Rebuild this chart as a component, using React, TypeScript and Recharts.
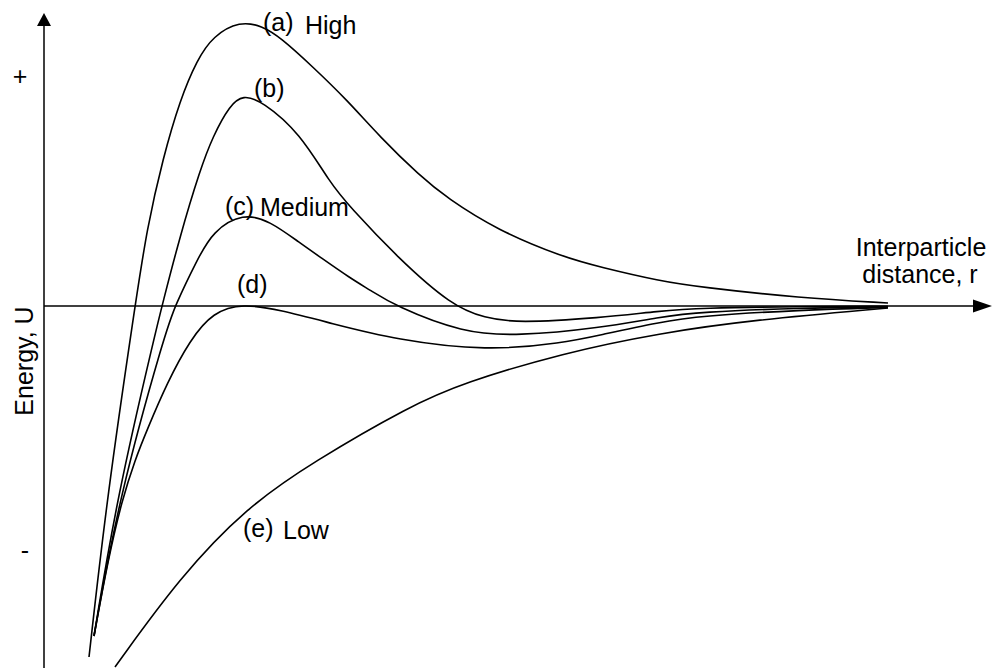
import { LineChart, Line, XAxis, YAxis, ReferenceLine, Customized } from "recharts";

// r and U are in arbitrary units (r = 0 and U = 0 at the axes' crossing)
const curveA = [
  { r: 4.5, u: -35.1 }, { r: 6.3, u: -19.1 }, { r: 9.1, u: 0 }, { r: 10.3, u: 7.8 },
  { r: 11.9, u: 14.8 }, { r: 13.6, u: 20.6 }, { r: 15.3, u: 24.6 }, { r: 16.9, u: 27.0 },
  { r: 19.6, u: 28.5 }, { r: 21.8, u: 28.0 }, { r: 23.6, u: 26.9 }, { r: 26.9, u: 23.9 },
  { r: 30.3, u: 20.6 }, { r: 33.6, u: 16.9 }, { r: 37.6, u: 13.0 }, { r: 40.3, u: 10.8 },
  { r: 45.3, u: 7.6 }, { r: 51.9, u: 4.9 }, { r: 55.6, u: 3.9 }, { r: 61.6, u: 2.5 },
  { r: 65.6, u: 1.9 }, { r: 75.6, u: 0.8 }, { r: 84.4, u: 0.3 },
];
const curveB = [
  { r: 5.0, u: -33.0 }, { r: 7.3, u: -19.1 }, { r: 11.2, u: -2.4 }, { r: 11.8, u: 0 },
  { r: 13.6, u: 7.0 }, { r: 15.6, u: 13.6 }, { r: 16.9, u: 17.0 }, { r: 18.6, u: 20.1 },
  { r: 19.9, u: 21.1 }, { r: 21.8, u: 20.5 }, { r: 25.6, u: 17.3 }, { r: 28.6, u: 12.3 },
  { r: 30.6, u: 9.9 }, { r: 35.3, u: 4.9 }, { r: 40.8, u: 0 }, { r: 44.1, u: -1.2 },
  { r: 47.3, u: -1.7 }, { r: 55.6, u: -1.2 }, { r: 61.6, u: -0.5 }, { r: 65.6, u: -0.2 },
  { r: 75.6, u: -0.05 }, { r: 84.4, u: -0.03 },
];
const curveC = [
  { r: 5.0, u: -33.0 }, { r: 7.5, u: -19.1 }, { r: 12.2, u: -2.4 }, { r: 13.1, u: 0 },
  { r: 15.3, u: 4.6 }, { r: 16.9, u: 7.5 }, { r: 19.9, u: 9.3 }, { r: 22.6, u: 8.5 },
  { r: 25.6, u: 6.3 }, { r: 27.6, u: 4.9 }, { r: 30.6, u: 2.8 }, { r: 32.6, u: 1.6 },
  { r: 35.1, u: 0 }, { r: 41.9, u: -2.7 }, { r: 47.3, u: -3.0 }, { r: 55.6, u: -2.2 },
  { r: 61.6, u: -1.1 }, { r: 65.6, u: -0.6 }, { r: 75.6, u: -0.2 }, { r: 84.4, u: -0.1 },
];
const curveD = [
  { r: 5.0, u: -33.0 }, { r: 6.4, u: -25.4 }, { r: 7.8, u: -19.4 }, { r: 9.1, u: -15.4 },
  { r: 10.3, u: -12.4 }, { r: 12.3, u: -7.7 }, { r: 14.6, u: -3.4 }, { r: 16.9, u: -0.6 },
  { r: 19.9, u: 0.25 }, { r: 23.6, u: -0.4 }, { r: 28.6, u: -1.7 }, { r: 35.3, u: -3.4 },
  { r: 44.3, u: -4.5 }, { r: 51.9, u: -3.7 }, { r: 55.6, u: -2.9 }, { r: 61.6, u: -1.6 },
  { r: 65.6, u: -1.0 }, { r: 75.6, u: -0.4 }, { r: 84.4, u: -0.15 },
];
const curveE = [
  { r: 7.1, u: -36.1 }, { r: 13.6, u: -27.1 }, { r: 20.3, u: -20.1 }, { r: 26.9, u: -15.6 },
  { r: 36.6, u: -10.0 }, { r: 41.9, u: -7.7 }, { r: 51.9, u: -4.7 }, { r: 61.6, u: -2.7 },
  { r: 70.9, u: -1.4 }, { r: 84.4, u: -0.2 },
];

const curves = [curveA, curveB, curveC, curveD, curveE];

const R_DOMAIN: [number, number] = [-4.4, 94.9];
const U_DOMAIN: [number, number] = [-36.2, 30.6];
const R_END = 94.8;
const U_TOP = 29.3;

const FONT = "'Liberation Sans', Arial, Helvetica, sans-serif";

function UpArrowAxis(props: any) {
  const { x1, y1, y2 } = props;
  const top = Math.min(y1, y2);
  const bottom = Math.max(y1, y2);
  return (
    <g>
      <line x1={x1} y1={bottom} x2={x1} y2={top + 10} stroke="#000" strokeWidth={1.5} />
      <polygon points={`${x1},${top} ${x1 - 7},${top + 13} ${x1 + 7},${top + 13}`} fill="#000" />
    </g>
  );
}

function RightArrowAxis(props: any) {
  const { x1, y1, x2 } = props;
  return (
    <g>
      <line x1={x1} y1={y1} x2={x2 - 15} y2={y1} stroke="#000" strokeWidth={1.5} />
      <polygon points={`${x2},${y1} ${x2 - 19},${y1 - 6.5} ${x2 - 19},${y1 + 6.5}`} fill="#000" />
    </g>
  );
}

function Labels() {
  const t = { fontFamily: FONT, fontSize: 25, fill: "#000" } as const;
  return (
    <g>
      <text x={263} y={31} {...t}>(a)</text>
      <text x={305} y={34} {...t}>High</text>
      <text x={254} y={97} {...t}>(b)</text>
      <text x={225} y={215} {...t}>(c)</text>
      <text x={260} y={216} {...t}>Medium</text>
      <text x={237} y={293} {...t}>(d)</text>
      <text x={243} y={537} {...t}>(e)</text>
      <text x={283} y={539} {...t}>Low</text>
      <text x={921} y={256} textAnchor="middle" {...t}>Interparticle</text>
      <text x={920} y={283} textAnchor="middle" {...t}>distance, r</text>
      <text x={20} y={85} textAnchor="middle" {...t}>+</text>
      <text x={25} y={559} textAnchor="middle" {...t}>-</text>
      <text x={33} y={361} textAnchor="middle" transform="rotate(-90 33 361)" {...t}>Energy, U</text>
    </g>
  );
}

export default function App() {
  return (
    <div style={{ position: "absolute", left: 0, top: 0, background: "#fff" }}>
      <LineChart width={993} height={668} margin={{ top: 0, right: 0, bottom: 0, left: 0 }}>
        <XAxis type="number" dataKey="r" domain={R_DOMAIN} hide allowDataOverflow />
        <YAxis type="number" dataKey="u" domain={U_DOMAIN} hide allowDataOverflow />
        <ReferenceLine
          segment={[{ x: 0, y: U_DOMAIN[0] }, { x: 0, y: U_TOP }]}
          ifOverflow="visible"
          shape={UpArrowAxis}
        />
        <ReferenceLine
          segment={[{ x: 0, y: 0 }, { x: R_END, y: 0 }]}
          ifOverflow="visible"
          shape={RightArrowAxis}
        />
        {curves.map((c, i) => (
          <Line
            key={i}
            data={c}
            dataKey="u"
            type="basis"
            stroke="#000"
            strokeWidth={1.6}
            dot={false}
            activeDot={false}
            isAnimationActive={false}
          />
        ))}
        <Customized component={Labels} />
      </LineChart>
    </div>
  );
}
